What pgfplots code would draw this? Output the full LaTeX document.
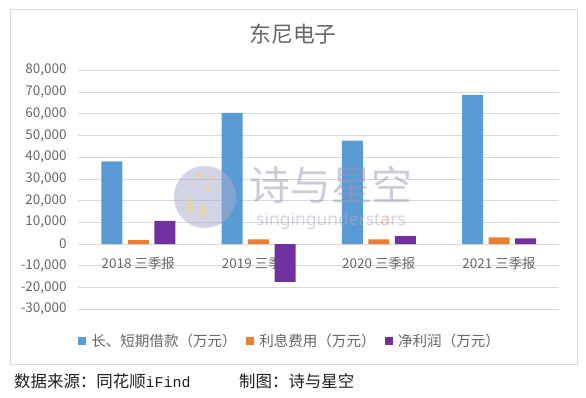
\documentclass[border=0pt]{standalone}
\usepackage{fontspec}
\setmainfont{Noto Sans CJK SC}
\newfontfamily\monofont{Liberation Mono}
\newfontfamily\latinfont{Noto Sans}
\usepackage{pgfplots}
\pgfplotsset{compat=1.18}
\definecolor{cblue}{HTML}{5B9BD5}
\definecolor{corange}{HTML}{ED7D31}
\definecolor{cpurple}{HTML}{7030A0}
\definecolor{gridc}{HTML}{D9D9D9}
\definecolor{txtc}{HTML}{666666}
\definecolor{wmcircle}{RGB}{167,171,205}
\definecolor{wmtext}{RGB}{150,153,180}
\definecolor{wmlatin}{RGB}{170,170,186}
\definecolor{wmred}{RGB}{229,113,101}
\definecolor{wmyellow}{RGB}{240,210,140}
\begin{document}
\begin{tikzpicture}[x=1bp,y=1bp]
\path (0,0) rectangle (586,397);
\draw[gridc, line width=0.75bp] (10,33) rectangle (577,388);
\node[text=txtc, font=\fontsize{22}{26}\selectfont, inner sep=0pt] at (293,363) {东尼电子};
\begin{axis}[
  at={(78.2bp,87.9bp)}, anchor=south west, scale only axis,
  width=481bp, height=238.7bp,
  set layers,
  xmin=-0.5, xmax=3.5, ymin=-30000, ymax=80000,
  ytick={-30000,-20000,...,80000},
  scaled y ticks=false,
  xtick={0,1,2,3},
  xticklabels={2018 三季报,2019 三季报,2020 三季报,2021 三季报},
  ymajorgrids, grid style={gridc, line width=0.75bp},
  axis line style={draw=none}, major tick length=0pt,
  tick label style={text=txtc, font=\fontsize{13.5}{16}\selectfont},
  yticklabel style={inner sep=0pt, anchor=east, xshift=-11.5bp},
  xticklabel style={inner sep=0pt, anchor=center, yshift=45.8bp},
  /pgf/number format/1000 sep={,},
  /pgf/number format/assume math mode=true,
  ybar=5.5bp, bar width=21bp,
  legend columns=3,
  legend style={at={(0.438,-0.1336)}, anchor=center, draw=none, fill=none,
    font=\fontsize{14.6}{16}\selectfont, text=txtc, inner sep=0pt,
    nodes={inner sep=0pt},
    /tikz/every odd column/.style={column sep=5.5bp},
    /tikz/every even column/.style={column sep=9bp}},
  legend image code/.code={\fill[#1] (0bp,-4bp) rectangle (8bp,4bp);},
]
\addplot[fill=cblue, draw=none] coordinates {(0,38100) (1,60400) (2,47600) (3,68700)};
\addlegendentry{长、短期借款（万元）}
\addplot[fill=corange, draw=none] coordinates {(0,1800) (1,2150) (2,2150) (3,3100)};
\addlegendentry{利息费用（万元）}
\addplot[fill=cpurple, draw=none] coordinates {(0,10600) (1,-17400) (2,3600) (3,2600)};
\addlegendentry{净利润（万元）}
\end{axis}
\begin{scope}[fill opacity=0.5, text opacity=0.5]
\fill[wmcircle] (205,200) circle (31);
\fill[wmyellow] (200,222) circle (3.5);
\fill[wmyellow] (212,219) circle (2.5);
\fill[wmyellow] (192,214) circle (2);
\fill[wmyellow] (208,208) circle (3);
\fill[wmyellow] (190,190) ellipse (4 and 8);
\fill[wmyellow] (203,186) ellipse (4 and 7);
\node[text=wmtext, font=\fontsize{41}{44}\selectfont, inner sep=0pt] at (331,212) {诗与星空};
\node[text=wmlatin, font=\latinfont\fontsize{17.5}{20}\selectfont, inner sep=0pt] at (331,176) {singingunderst\textcolor{wmred}{a}rs};
\end{scope}
\node[anchor=west, inner sep=0pt, text=black!88, font=\fontsize{16.5}{18}\selectfont] at (14,16) {数据来源：同花顺{\monofont\fontsize{15}{16}\selectfont iFind}};
\node[anchor=west, inner sep=0pt, text=black!88, font=\fontsize{16.5}{18}\selectfont] at (239,16) {制图：诗与星空};
\end{tikzpicture}
\end{document}
